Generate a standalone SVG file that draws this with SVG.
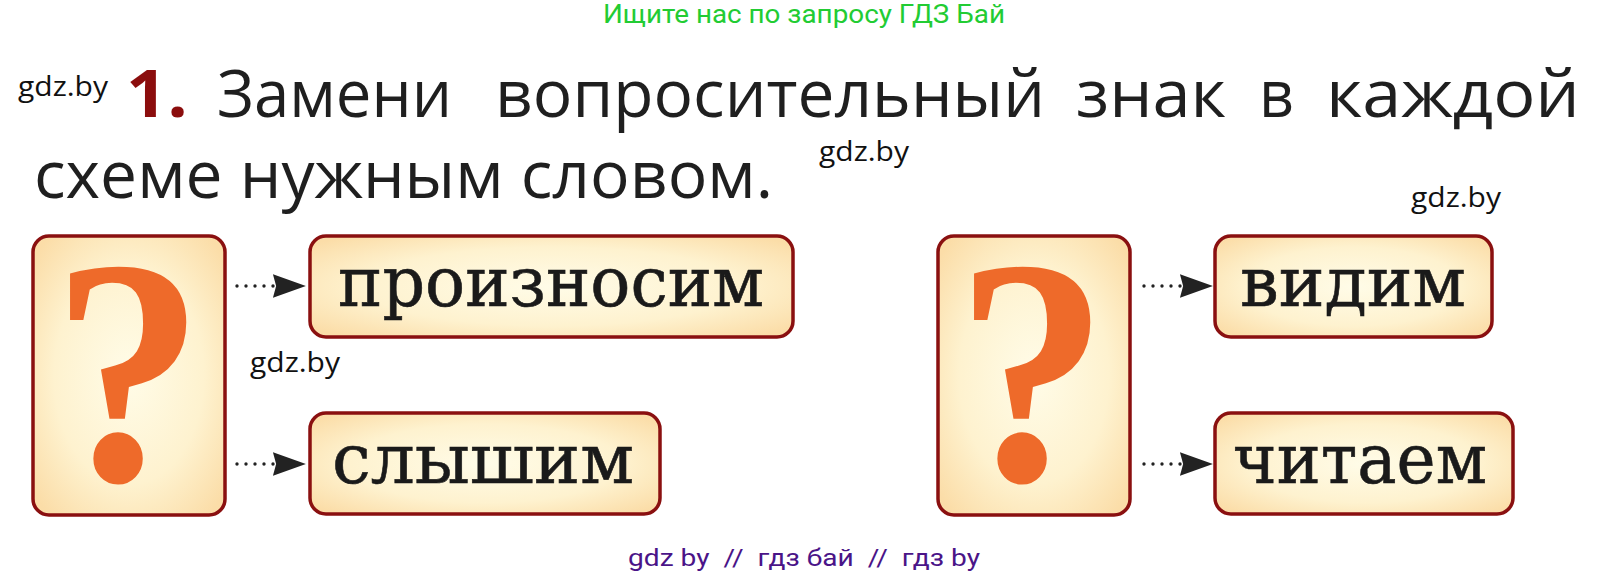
<svg xmlns="http://www.w3.org/2000/svg" width="1611" height="576" viewBox="0 0 1611 576">
<defs>
<radialGradient id="cream" cx="50%" cy="50%" r="65%">
<stop offset="0" stop-color="#FFFCE8"/>
<stop offset="0.6" stop-color="#FEF2CF"/>
<stop offset="1" stop-color="#FBDDA8"/>
</radialGradient>
<marker id="head" markerUnits="userSpaceOnUse" markerWidth="34" markerHeight="24" viewBox="0 0 32 22" refX="1" refY="11" orient="auto">
<path d="M0,0 L31,11 L0,22 L3,11 Z" fill="#222"/>
</marker>
</defs>
<style>
.box{fill:url(#cream);stroke:#8A1010;stroke-width:3.5}
.q{font-family:"Liberation Serif","Times New Roman",serif;font-weight:bold;font-size:322px;fill:#EE6A2A;text-anchor:middle}
.w{font-family:"DejaVu Serif",serif;font-size:69px;fill:#1a1a1a;stroke:#1a1a1a;stroke-width:0.6}
.wm{font-family:"Open Sans","Noto Sans",sans-serif;font-size:28px;fill:#111}
.title{font-family:"Open Sans","Noto Sans",sans-serif;font-size:66px;fill:#1f1f1f}
.conn{fill:none;stroke:#222;stroke-width:3.4;stroke-linecap:round;stroke-dasharray:0 9;marker-end:url(#head)}
</style>
<rect width="1611" height="576" fill="#fff"/>
<text x="603" y="23" font-family="Roboto,sans-serif" font-size="25" fill="#22CC33" textLength="402" lengthAdjust="spacingAndGlyphs">Ищите нас по запросу ГДЗ Бай</text>
<text class="wm" x="18" y="96" textLength="90" lengthAdjust="spacingAndGlyphs">gdz.by</text>
<text x="126" y="117" font-family="'Open Sans','Noto Sans',sans-serif" font-weight="bold" font-size="67" fill="#8B0D0D" textLength="62" lengthAdjust="spacingAndGlyphs">1.</text>
<g class="title">
<text x="217" y="117" textLength="235" lengthAdjust="spacingAndGlyphs">Замени</text>
<text x="495" y="117" textLength="550" lengthAdjust="spacingAndGlyphs">вопросительный</text>
<text x="1076" y="117" textLength="150" lengthAdjust="spacingAndGlyphs">знак</text>
<text x="1259" y="117" textLength="35" lengthAdjust="spacingAndGlyphs">в</text>
<text x="1326" y="117" textLength="254" lengthAdjust="spacingAndGlyphs">каждой</text>
<text x="34" y="198" textLength="739" lengthAdjust="spacingAndGlyphs">схеме нужным словом.</text>
</g>
<text class="wm" x="819" y="161" textLength="90" lengthAdjust="spacingAndGlyphs">gdz.by</text>
<text class="wm" x="1411" y="207" textLength="90" lengthAdjust="spacingAndGlyphs">gdz.by</text>
<text class="wm" x="250" y="372" textLength="90" lengthAdjust="spacingAndGlyphs">gdz.by</text>
<g id="q-left">
<rect class="box" x="33" y="236" width="192" height="279" rx="16"/>
<text class="q" transform="translate(128,480) scale(0.95,1)" x="0" y="0">?</text>
</g>
<g id="n-proiznosim">
<rect class="box" x="310" y="236" width="483" height="101" rx="16"/>
<text class="w" x="338" y="306" textLength="426" lengthAdjust="spacingAndGlyphs">произносим</text>
</g>
<g id="n-slyshim">
<rect class="box" x="310" y="413" width="350" height="101" rx="16"/>
<text class="w" x="332" y="483" textLength="302" lengthAdjust="spacingAndGlyphs">слышим</text>
</g>
<g id="q-right">
<rect class="box" x="938" y="236" width="192" height="279" rx="16"/>
<text class="q" transform="translate(1032,480) scale(0.95,1)" x="0" y="0">?</text>
</g>
<g id="n-vidim">
<rect class="box" x="1215" y="236" width="277" height="101" rx="16"/>
<text class="w" x="1240" y="306" textLength="226" lengthAdjust="spacingAndGlyphs">видим</text>
</g>
<g id="n-chitaem">
<rect class="box" x="1215" y="413" width="298" height="101" rx="16"/>
<text class="w" x="1233" y="483" textLength="254" lengthAdjust="spacingAndGlyphs">читаем</text>
</g>
<g id="connectors">
<path class="conn" d="M237,286 L274,286"/>
<path class="conn" d="M237,464 L274,464"/>
<path class="conn" d="M1144,286 L1181,286"/>
<path class="conn" d="M1144,464 L1181,464"/>
</g>
<text x="628" y="566" font-family="Roboto,sans-serif" font-size="24" fill="#4A1488" textLength="352" lengthAdjust="spacingAndGlyphs" xml:space="preserve">gdz by  //  гдз бай  //  гдз by</text>
</svg>
